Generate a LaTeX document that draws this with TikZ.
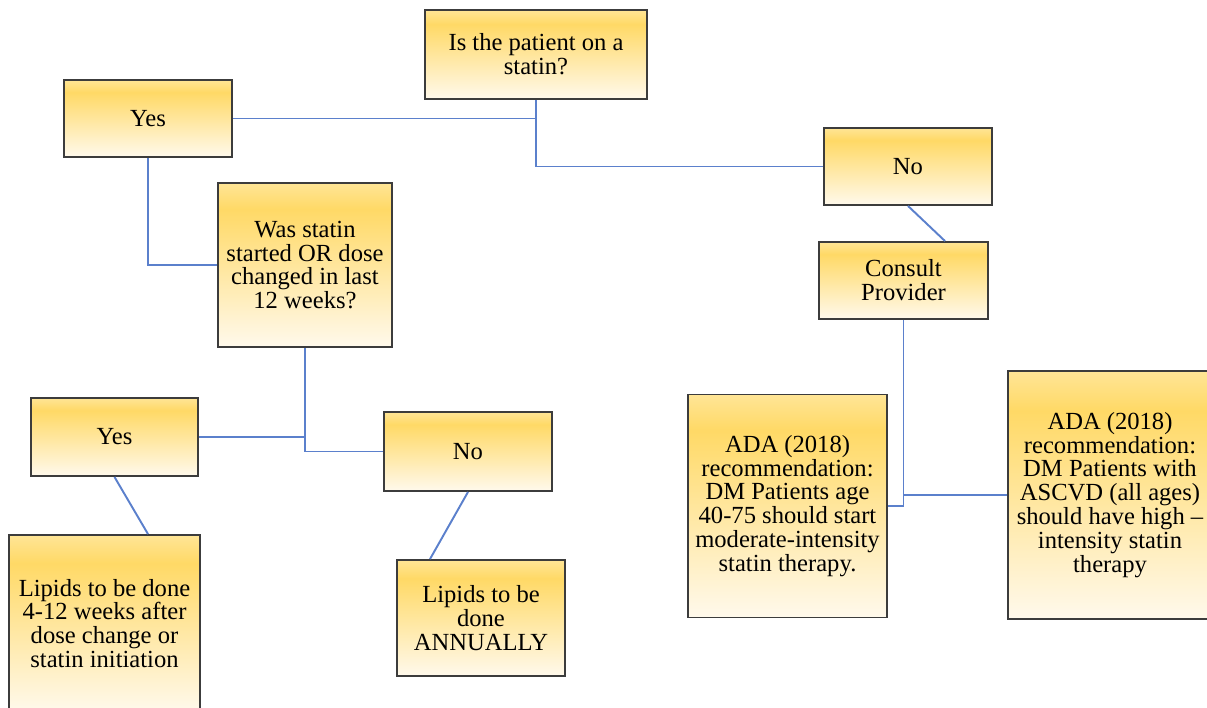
\documentclass[tikz,border=0pt]{standalone}
\usepackage{fontspec}
\setmainfont{LiberationSerif}[Extension=.ttf, UprightFont=*-Regular, BoldFont=*-Bold, ItalicFont=*-Italic]
\definecolor{goldtop}{HTML}{FFE596}
\definecolor{goldmid}{HTML}{FFD966}
\definecolor{goldbot}{HTML}{FFF9EC}
\definecolor{linkblue}{HTML}{5B80CC}
\definecolor{edgegray}{HTML}{3C3C3C}
\pgfdeclareverticalshading{goldfade}{100bp}{color(0bp)=(goldbot); color(25bp)=(goldbot); color(67bp)=(goldmid); color(75bp)=(goldtop); color(100bp)=(goldtop)}
\begin{document}
\begin{tikzpicture}[x=0.02cm,y=-0.02cm,
        box/.style={draw=edgegray, line width=1.1pt, shading=goldfade, align=center, inner sep=2pt, font=\fontsize{14}{13.6}\selectfont},
        link/.style={draw=linkblue, line width=1.1pt}]
        \useasboundingbox (0,0) rectangle (1207,707);

        % first question and its answers
        \node[box, minimum width=4.44cm, minimum height=1.78cm] (onstatin) at (536,54.5) {Is the patient on a\\statin?};
        \node[box, minimum width=3.36cm, minimum height=1.54cm] (yesA) at (148,118.5) {Yes};
        \node[box, minimum width=3.36cm, minimum height=1.54cm] (noA) at (908,166.5) {No};
        \node[box, minimum width=3.38cm, minimum height=1.54cm] (consult) at (903.5,280.5) {Consult\\Provider};

        % second question
        \node[box, minimum width=3.48cm, minimum height=3.28cm] (changed) at (305,265) {Was statin\\started OR dose\\changed in last\\12 weeks?};
        \node[box, minimum width=3.34cm, minimum height=1.56cm] (yesB) at (114.5,437) {Yes};
        \node[box, minimum width=3.36cm, minimum height=1.58cm] (noB) at (468,451.5) {No};
        \node[box, minimum width=3.82cm, minimum height=3.54cm] (lipidsA) at (104.5,623.5) {Lipids to be done\\4-12 weeks after\\dose change or\\statin initiation};
        \node[box, minimum width=3.36cm, minimum height=2.32cm] (lipidsB) at (481,618) {Lipids to be\\done\\ANNUALLY};

        % ADA recommendations
        \node[box, minimum width=3.98cm, minimum height=4.46cm] (adaA) at (787.5,506) {ADA (2018)\\recommendation:\\DM Patients age\\40-75 should start\\moderate-intensity\\statin therapy.};
        \node[box, minimum width=4.08cm, minimum height=4.96cm] (adaB) at (1110,495) {ADA (2018)\\recommendation:\\DM Patients with\\ASCVD (all ages)\\should have high --\\intensity statin\\therapy};

        \draw[link] (onstatin.south) |- (noA.west);
        \draw[link] (yesA.east) -- (yesA.east -| onstatin.south);
        \draw[link] (yesA.south) |- (changed.west);
        \draw[link] (changed.south) |- (noB.west);
        \draw[link] (yesB.east) -- (yesB.east -| changed.south);
        \draw[link] (yesB.south) -- ([xshift=0.87cm]lipidsA.north);
        \draw[link] (noB.south) -- ([xshift=-1.02cm]lipidsB.north);
        \draw[link] (noA.south) -- ([xshift=0.83cm]consult.north);
        \draw[link] (consult.south) |- (adaA.east);
        \draw[link] (adaB.west) -- (adaB.west -| consult.south);

        \end{tikzpicture}
\end{document}
